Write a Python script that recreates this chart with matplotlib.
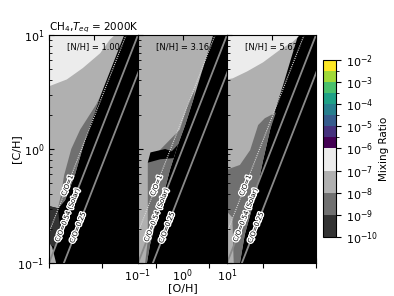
import numpy as np
import matplotlib.pyplot as plt
import matplotlib.patheffects as pe
from matplotlib.colors import ListedColormap, BoundaryNorm
from matplotlib.cm import ScalarMappable
from matplotlib.ticker import NullLocator, NullFormatter

# panel labels
nh_text = ['[N/H] = 1.00', '[N/H] = 3.16', '[N/H] = 5.62']

# C/O lines (axes are solar normalised, solar C/O = 0.54)
solar_co = 0.54
co_vals = [1.0, 0.54, 0.25]
co_text = ['C/O=1', 'C/O=0.54 (Solar)', 'C/O=0.25']
co_lab_logy = [-0.32, -0.58, -0.69]   # where the labels sit, log10 [C/H]

# colour levels, log10 mixing ratio
bounds = [-10, -9, -8, -7, -6, -5.5, -5, -4.5, -4, -3.5, -3, -2.5, -2]
grey_cols = ['#333333', '#707070', '#b0b0b0', '#ececec']

# filled regions, vertices as (log10 O/H, log10 C/H)
# panel 1
p1_lg = [(-1, 1), (0.69, 1), (0.15, 0.46), (-0.19, 0.08), (-0.42, -0.23),
         (-0.64, -0.45), (-0.80, -0.52), (-1, -0.50)]
p1_vl = [(-1, 1), (0.48, 1), (0.37, 0.96), (0.15, 0.84), (-0.24, 0.71),
         (-0.60, 0.61), (-1, 0.55)]
p1_mg = [(0.15, 0.46), (0.06, 0.39), (-0.30, 0.17), (-0.50, 0.00), (-0.66, -0.23),
         (-0.74, -0.42), (-0.80, -0.52), (-0.64, -0.45), (-0.42, -0.23), (-0.19, 0.08)]
p1_dk = [(-1, -0.50), (-0.80, -0.52), (-0.74, -0.72), (-0.86, -0.86), (-1, -0.84)]
p1_lg2 = [(-1, -1), (-0.84, -1), (-0.93, -0.86), (-1, -0.82)]
# panel 2
p2_lg = [(-1, 1), (0.69, 1), (0.24, 0.43), (0.06, 0.21), (-0.10, 0.04),
         (-0.28, -0.18), (-0.46, -0.45), (-0.62, -0.67), (-0.73, -0.84), (-0.80, -1), (-1, -1)]
p2_mg = [(0.28, 0.52), (0.24, 0.43), (0.06, 0.21), (-0.10, 0.04), (-0.28, -0.18),
         (-0.46, -0.45), (-0.62, -0.67), (-0.73, -0.84), (-0.80, -1), (-0.84, -1),
         (-0.78, -0.80), (-0.78, -0.12), (-0.51, -0.01), (-0.06, 0.17), (0.12, 0.39)]
p2_bk = [(-0.78, -0.12), (-0.72, -0.03), (-0.39, 0.00), (-0.24, -0.02), (-0.10, 0.04),
         (-0.20, -0.08), (-0.50, -0.09)]
# panel 3
p3_lg = [(-1, 1), (0.60, 1), (0.46, 0.82), (0.26, 0.56), (0.08, 0.34), (-0.03, 0.17),
         (-0.19, -0.10), (-0.33, -0.36), (-0.48, -0.58), (-0.60, -0.75), (-0.71, -1), (-1, -1)]
p3_vl = [(-1, 1), (0.64, 1), (0.48, 0.94), (0.19, 0.87), (-0.19, 0.76), (-0.55, 0.68),
         (-0.87, 0.62), (-1, 0.61)]
p3_mg = [(-1, -0.18), (-0.71, -0.14), (-0.48, -0.01), (-0.30, 0.21), (-0.15, 0.27),
         (0.10, 0.32), (-0.03, 0.17), (-0.19, -0.10), (-0.33, -0.36), (-0.48, -0.58),
         (-0.60, -0.75), (-0.71, -1), (-0.85, -1), (-0.88, -0.60), (-1, -0.55)]
p3_lg2 = [(-1, -1), (-0.86, -1), (-0.89, -0.62), (-1, -0.57)]

panels = [
    [(p1_lg, 2), (p1_vl, 3), (p1_mg, 1), (p1_dk, 0), (p1_lg2, 2)],
    [(p2_lg, 2), (p2_mg, 1), (p2_bk, None)],
    [(p3_lg, 2), (p3_vl, 3), (p3_mg, 1), (p3_lg2, 2)],
]

fig = plt.figure(figsize=(3.94, 2.96), dpi=100)
L, R, B, T = 49 / 394, 316 / 394, 1 - 263 / 296, 1 - 35 / 296
W = (R - L) / 3

# background axes for the common labels
big = fig.add_axes([L, B, R - L, T - B], frameon=False)
big.tick_params(labelleft=False, labelbottom=False, left=False)
big.set_xlabel('[O/H]', fontsize=8, labelpad=11)
big.set_ylabel('[C/H]', fontsize=8, labelpad=20)

axes = []
for i in range(3):
    ax = fig.add_axes([L + i * W, B, W, T - B])
    ax.set_facecolor('black')
    ax.set_xscale('log')
    ax.set_yscale('log')
    for poly, lev in panels[i]:
        xs = [10 ** p[0] for p in poly]
        ys = [10 ** p[1] for p in poly]
        col = 'black' if lev is None else grey_cols[lev]
        ax.fill(xs, ys, color=col, lw=0)
    xx = np.array([0.01, 100])
    for k, co in enumerate(co_vals):
        r = co / solar_co
        if k == 0:
            ax.plot(xx, r * xx, color='#d8d8d8', lw=0.8, ls=(0, (1, 1)))
        else:
            ax.plot(xx, r * xx, color='#8a8a8a', lw=1.3)
        ly = co_lab_logy[k]
        ax.text(10 ** ly / r, 10 ** ly, co_text[k], fontsize=4.8, rotation=68.7,
                ha='center', va='center', rotation_mode='anchor', color='black',
                path_effects=[pe.withStroke(linewidth=2, foreground='white')])
    ax.set_xlim(0.1, 10)
    ax.set_ylim(0.1, 10)
    ax.text(0.5, 0.97, nh_text[i], transform=ax.transAxes, ha='center', va='top', fontsize=6)
    ax.xaxis.set_minor_locator(NullLocator())
    ax.tick_params(axis='x', which='major', direction='in', top=True, labelsize=8)
    ax.tick_params(axis='y', which='both', direction='in', labelsize=8)
    if i != 1:
        ax.tick_params(axis='x', labelbottom=False)
    if i != 0:
        ax.tick_params(axis='y', labelleft=False)
        ax.yaxis.set_minor_formatter(NullFormatter())
    axes.append(ax)

axes[0].set_title(r'CH$_4$,$T_{eq}$ = 2000K', loc='left', fontsize=7.5, pad=3)

# colour bar
cols = grey_cols + [tuple(c) for c in plt.cm.viridis(np.linspace(0, 1, 8))]
cmap = ListedColormap(cols)
norm = BoundaryNorm(bounds, cmap.N)
cax = fig.add_axes([323 / 394, 1 - 237 / 296, 13 / 394, 177 / 296])
cb = fig.colorbar(ScalarMappable(norm=norm, cmap=cmap), cax=cax,
                  ticks=list(range(-10, -1)), spacing='proportional')
cb.ax.set_yticklabels([r'$10^{%d}$' % t for t in range(-10, -1)])
cb.ax.tick_params(labelsize=8)
cb.set_label('Mixing Ratio', fontsize=7.5, labelpad=1)

fig.savefig('out.png', dpi=100)
